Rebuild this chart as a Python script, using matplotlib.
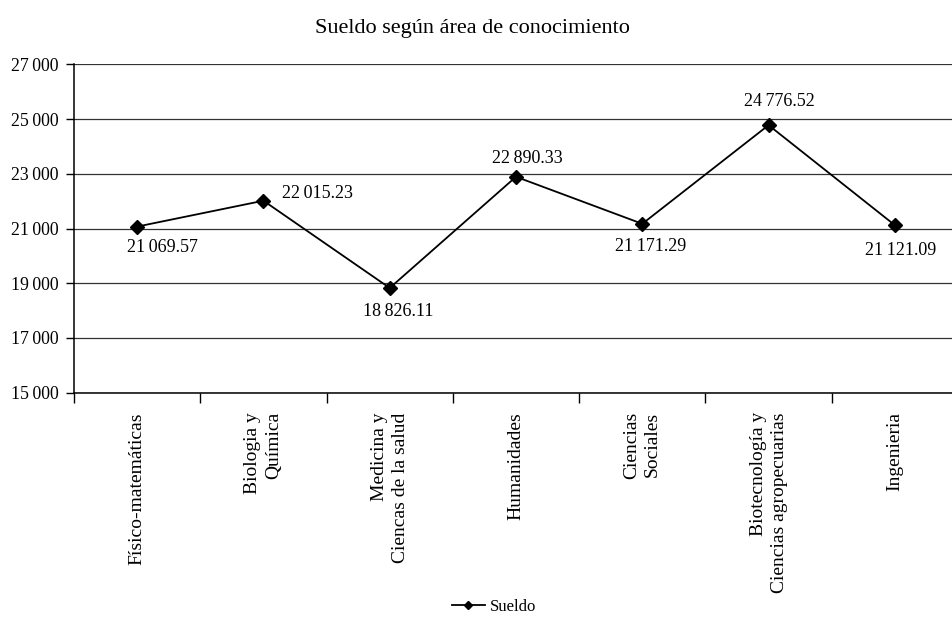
import matplotlib
matplotlib.use("Agg")
import matplotlib.pyplot as plt
from matplotlib.ticker import FixedLocator, FuncFormatter

plt.rcParams['font.family'] = ['Liberation Serif', 'DejaVu Serif']

# Data
areas = [
    "Físico-matemáticas",
    "Biologia y\nQuímica",
    "Medicina y\nCiencas de la salud",
    "Humanidades",
    "Ciencias\nSociales",
    "Biotecnología y\nCiencias agropecuarias",
    "Ingenieria",
]
sueldo = [21069.57, 22015.23, 18826.11, 22890.33, 21171.29, 24776.52, 21121.09]
y_ticks = [15000, 17000, 19000, 21000, 23000, 25000, 27000]

# label offsets (points) relative to each marker
label_offsets = [(18, -15), (39, 5), (6, -17), (8, 13), (6, -16), (8, 17), (4, -18)]

def thousands(v):
    s = f"{v:,.2f}" if v % 1 else f"{int(v):,}"
    return s.replace(",", "\u2009")

fig = plt.figure(figsize=(9.53, 6.19), dpi=100)
ax = fig.add_axes([74 / 953, 1 - 392.7 / 619, 884 / 953, (392.7 - 64.3) / 619])

x = list(range(len(areas)))
ax.plot(x, sueldo, color="black", lw=1.3, marker="D", markersize=7.5,
        markerfacecolor="black", markeredgecolor="black", label="Sueldo",
        zorder=3, clip_on=False)

for xi, v, (dx, dy) in zip(x, sueldo, label_offsets):
    ax.annotate(thousands(v), (xi, v), xytext=(dx, dy), textcoords="offset points",
                ha="center", va="center", fontsize=13)

ax.set_xlim(-0.5, len(areas) - 0.5)
ax.set_ylim(15000, 27000)

ax.yaxis.set_major_locator(FixedLocator(y_ticks))
ax.yaxis.set_major_formatter(FuncFormatter(lambda v, p: thousands(v)))
ax.tick_params(axis="y", direction="out", length=6, width=1, pad=5, labelsize=12.8)
ax.yaxis.grid(True, color="#333333", lw=0.9)
ax.set_axisbelow(True)

ax.set_xticks(x)
ax.set_xticklabels(areas, rotation=90, ha="center", va="top",
                   multialignment="right", fontsize=14, linespacing=1.3)
ax.tick_params(axis="x", length=0, pad=14)
ax.set_xticks([i - 0.5 for i in range(len(areas) + 1)], minor=True)
ax.tick_params(axis="x", which="minor", direction="out", length=7, width=1)

for side in ("top", "right"):
    ax.spines[side].set_visible(False)
for side in ("left", "bottom"):
    ax.spines[side].set_linewidth(1.1)
    ax.spines[side].set_color("black")

fig.text(472 / 953, 1 - 29 / 619, "Sueldo según área de conocimiento",
         ha="center", va="center", fontsize=16)

leg = fig.legend(handles=ax.get_lines(), loc="center", bbox_to_anchor=(494 / 953, 1 - 607 / 619),
                 frameon=False, fontsize=12, handlelength=2.0, handletextpad=0.3,
                 markerscale=0.6)

fig.savefig("out.png", dpi=100)
